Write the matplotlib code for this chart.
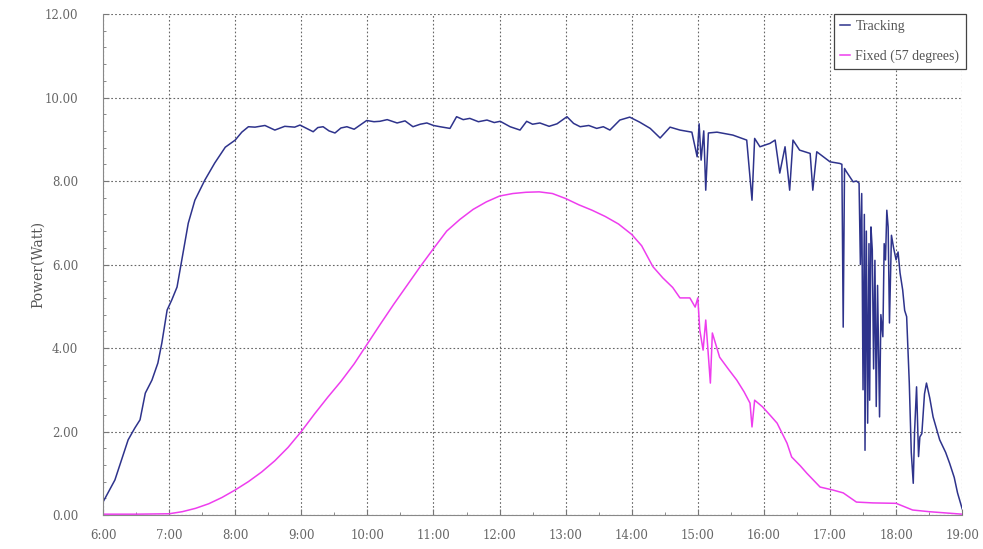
import matplotlib.pyplot as plt
from matplotlib.ticker import FixedLocator, MultipleLocator, FuncFormatter

# ---------- data (hours of day, watts) ----------
track_t = [6.00, 6.18, 6.38, 6.48, 6.56, 6.64, 6.74, 6.83, 6.89, 6.97, 7.04, 7.12,
           7.20, 7.29, 7.39, 7.54, 7.69, 7.85, 8.00, 8.10, 8.20, 8.30, 8.45, 8.60, 8.75, 8.90, 8.98,
           9.08, 9.18, 9.25, 9.33, 9.42, 9.51, 9.60, 9.69, 9.80, 9.89, 9.99, 10.10, 10.19, 10.30,
           10.45, 10.57, 10.69, 10.80, 10.90, 11.00, 11.10, 11.25,
           11.35, 11.45, 11.55, 11.68, 11.81, 11.92, 12.01, 12.16, 12.31, 12.41, 12.50, 12.61,
           12.75, 12.87, 13.02, 13.12, 13.22, 13.35, 13.47,
           13.57, 13.67, 13.82, 13.97, 14.12, 14.28, 14.43, 14.58, 14.73, 14.91, 14.99, 15.02, 15.05,
           15.09, 15.12, 15.16, 15.29, 15.53, 15.74, 15.82, 15.86, 15.94, 16.09, 16.17, 16.24,
           16.32, 16.39, 16.44, 16.54, 16.70, 16.74, 16.80, 17.00, 17.15, 17.18, 17.20, 17.22,
           17.25, 17.30, 17.35, 17.40, 17.44, 17.46, 17.48, 17.50, 17.52, 17.53, 17.55, 17.57,
           17.59, 17.60, 17.62, 17.64, 17.66, 17.68, 17.70, 17.72, 17.75, 17.77, 17.80, 17.82,
           17.84, 17.86, 17.88, 17.90, 17.93, 17.96, 18.00, 18.03, 18.06, 18.10, 18.13, 18.16,
           18.20, 18.23, 18.26, 18.28, 18.31, 18.34, 18.36, 18.39, 18.43, 18.46, 18.51, 18.56,
           18.66, 18.75, 18.81, 18.88, 18.93, 19.00]
track_p = [0.31, 0.84, 1.80, 2.08, 2.28, 2.92, 3.23, 3.64, 4.12, 4.91, 5.15, 5.46,
           6.18, 6.99, 7.54, 8.02, 8.43, 8.81, 8.98, 9.17, 9.30, 9.29, 9.33, 9.22, 9.31, 9.29, 9.34,
           9.26, 9.18, 9.28, 9.30, 9.20, 9.15, 9.27, 9.30, 9.24, 9.34, 9.45, 9.42, 9.43, 9.47,
           9.39, 9.44, 9.30, 9.36, 9.39, 9.33, 9.30, 9.26,
           9.54, 9.47, 9.50, 9.42, 9.46, 9.40, 9.43, 9.30, 9.22, 9.43, 9.36, 9.39,
           9.31, 9.37, 9.54, 9.38, 9.30, 9.33, 9.26,
           9.30, 9.22, 9.46, 9.53, 9.41, 9.26, 9.03, 9.29, 9.22, 9.17, 8.58, 9.37, 8.50,
           9.20, 7.78, 9.15, 9.17, 9.10, 8.98, 7.54, 9.02, 8.82, 8.90, 8.98, 8.19,
           8.82, 7.78, 8.98, 8.74, 8.66, 7.78, 8.70, 8.46, 8.42, 8.40, 4.50, 8.30,
           8.22, 8.10, 7.98, 8.00, 7.95, 6.00, 7.70, 3.00, 7.20, 1.55, 6.80, 2.20,
           6.50, 2.75, 6.90, 6.35, 3.50, 6.10, 2.60, 5.50, 2.35, 4.80, 4.27, 6.50,
           6.11, 7.30, 6.90, 4.60, 6.70, 6.42, 6.11, 6.30, 5.80, 5.39, 4.90, 4.75,
           3.16, 1.50, 0.76, 2.00, 3.07, 1.40, 1.87, 1.95, 2.90, 3.16, 2.80, 2.35,
           1.80, 1.50, 1.24, 0.90, 0.53, 0.15]

fixed_t = [6.00, 6.50, 7.00, 7.20, 7.40, 7.60, 7.80, 8.00, 8.20, 8.40, 8.60, 8.80,
           9.00, 9.20, 9.40, 9.60, 9.80, 10.00, 10.20, 10.40, 10.60, 10.80, 11.00, 11.20,
           11.40, 11.60, 11.80, 12.00, 12.20, 12.40, 12.60, 12.80, 13.00, 13.20, 13.40, 13.60,
           13.80, 14.00, 14.15, 14.32, 14.47, 14.62, 14.73, 14.88, 14.96, 15.00, 15.03,
           15.08, 15.12, 15.15, 15.19, 15.22, 15.33, 15.46, 15.59, 15.70, 15.79, 15.82, 15.86,
           15.98, 16.10, 16.20, 16.35, 16.42, 16.55, 16.65, 16.85, 17.04, 17.20, 17.40, 17.65,
           18.00, 18.25, 18.50, 18.75, 19.00]
fixed_p = [0.02, 0.02, 0.03, 0.08, 0.16, 0.27, 0.42, 0.60, 0.80, 1.03, 1.30, 1.62,
           2.00, 2.42, 2.82, 3.20, 3.62, 4.10, 4.58, 5.05, 5.50, 5.95, 6.38, 6.80,
           7.08, 7.32, 7.50, 7.64, 7.70, 7.73, 7.74, 7.70, 7.58, 7.43, 7.30, 7.15,
           6.97, 6.72, 6.45, 5.95, 5.68, 5.45, 5.20, 5.20, 4.98, 5.20, 4.43,
           3.95, 4.67, 4.03, 3.16, 4.36, 3.78, 3.50, 3.23, 2.95, 2.68, 2.11, 2.75,
           2.59, 2.38, 2.20, 1.72, 1.39, 1.18, 1.00, 0.67, 0.60, 0.53, 0.31, 0.29,
           0.28, 0.12, 0.08, 0.05, 0.02]

hours = list(range(6, 20))

# ---------- plot ----------
plt.rcParams['font.family'] = ['DejaVu Serif']
fig = plt.figure(figsize=(9.83, 5.49), dpi=100)
ax = fig.add_axes([0.1048, 0.0619, 0.874, 0.9126])

ax.plot(track_t, track_p, color='#2E338C', lw=1.1, label='Tracking')
ax.plot(fixed_t, fixed_p, color='#EE3DEE', lw=1.1, label='Fixed (57 degrees)')

ax.set_xlim(6, 19)
ax.set_ylim(0, 12)
ax.xaxis.set_major_locator(FixedLocator(hours))
ax.xaxis.set_minor_locator(MultipleLocator(0.5))
ax.xaxis.set_major_formatter(FuncFormatter(lambda v, p: f"{int(round(v))}:00"))
ax.yaxis.set_major_locator(MultipleLocator(2))
ax.yaxis.set_minor_locator(MultipleLocator(0.4))
ax.yaxis.set_major_formatter(FuncFormatter(lambda v, p: f"{v:.2f}"))

ax.grid(True, which='major', linestyle=(0, (1.5, 2)), color='#666666', linewidth=0.8)
ax.tick_params(which='both', direction='in', colors='#777777', labelcolor='#666666',
               labelsize=8.5)
ax.tick_params(which='major', length=4)
ax.tick_params(which='minor', length=2)
ax.tick_params(axis='x', pad=10)
ax.tick_params(axis='y', pad=18)
for s in ['top', 'right']:
    ax.spines[s].set_visible(False)
for s in ['left', 'bottom']:
    ax.spines[s].set_color('#888888')

ax.set_ylabel('Power(Watt)', fontsize=10, color='#555555')
ax.yaxis.set_label_coords(-0.068, 0.5)

leg = ax.legend(loc='upper right', bbox_to_anchor=(1.004, 1.0),
                prop={'family': 'Liberation Serif', 'size': 10},
                fancybox=False, framealpha=1, edgecolor='#444444',
                handlelength=0.7, handletextpad=0.4, borderaxespad=0,
                labelspacing=1.15, borderpad=0.45)
leg.get_frame().set_linewidth(0.9)
for t in leg.get_texts():
    t.set_color('#555555')

fig.savefig('out.png', dpi=100)
